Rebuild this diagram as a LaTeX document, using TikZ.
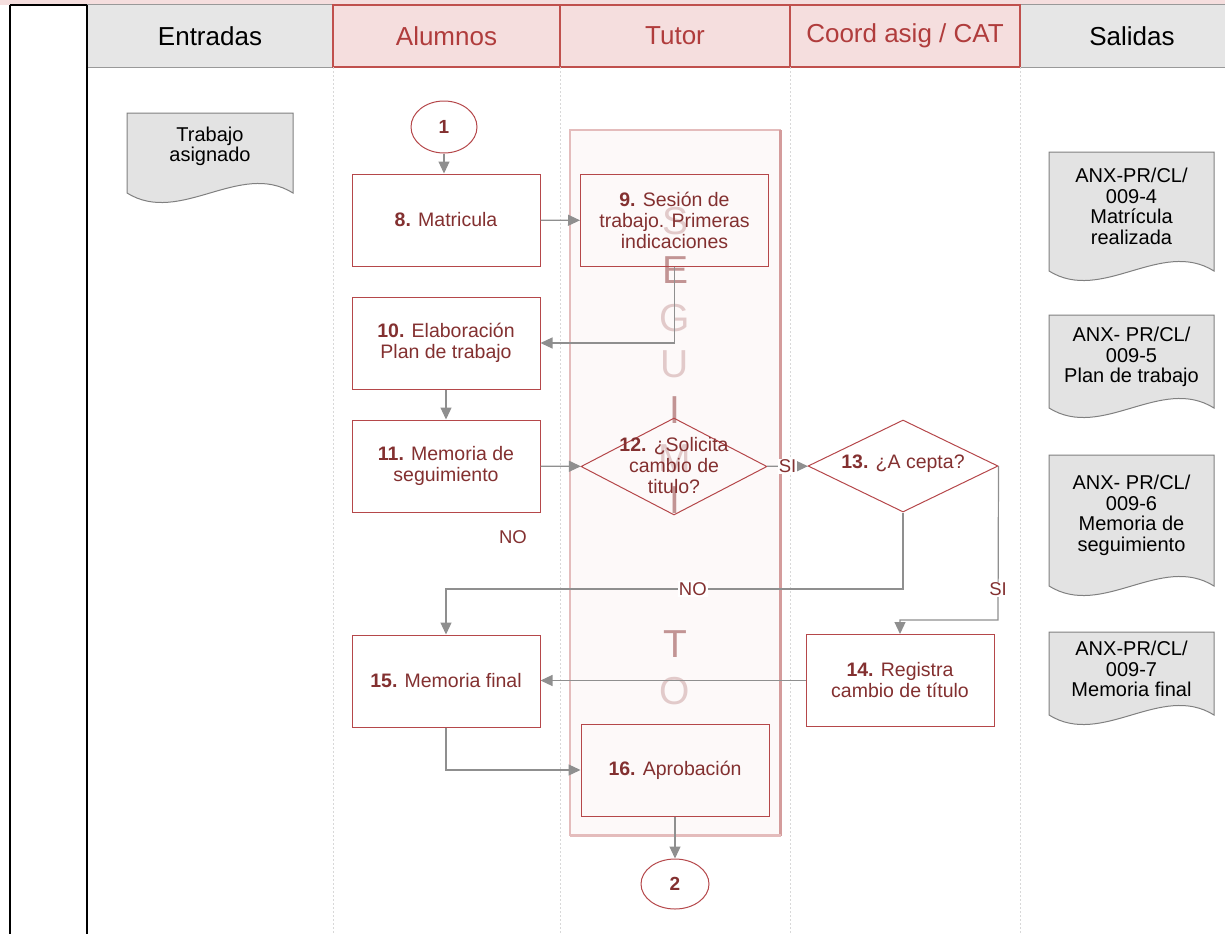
\documentclass[tikz,border=0pt]{standalone}
\usepackage{fontspec}
\setmainfont{Liberation Sans}
\usetikzlibrary{arrows.meta,shapes.geometric}
\definecolor{boxred}{HTML}{B5474A}
\definecolor{txtred}{HTML}{833030}
\definecolor{hdrred}{HTML}{B03C3C}
\definecolor{hdrborder}{HTML}{C0504D}
\definecolor{pinkfill}{HTML}{F5DEDE}
\definecolor{grayfill}{HTML}{E6E6E6}
\definecolor{arrowgray}{HTML}{8F8F8F}
\definecolor{framepink}{HTML}{E4BCBC}
\definecolor{framedark}{HTML}{D49C9C}
\definecolor{framefill}{HTML}{FDF9F9}
\definecolor{letlight}{HTML}{E2CACA}
\definecolor{letdark}{HTML}{C29494}
\definecolor{docgray}{HTML}{E3E3E3}
\definecolor{docborder}{HTML}{808080}
\definecolor{lanegray}{HTML}{D8D8D8}
\newcommand{\docpath}[4]{\draw[docsty] (#1,#2) -- (#3,#2) -- (#3,#4) .. controls +(-53,-33) and +(53,33) .. (#1,#4) -- cycle;}
\begin{document}
\begin{tikzpicture}[x=1pt,y=-1pt,
  stepbox/.style={draw=boxred, line width=1pt, fill=white, minimum width=188pt, minimum height=92pt, align=center, text=txtred, font=\fontsize{19.5}{21}\selectfont, inner sep=2pt},
  tbox/.style={stepbox, fill=none},
  decis/.style={diamond, draw=boxred, line width=1pt, inner sep=0pt},
  dtext/.style={align=center, text=txtred, font=\fontsize{19.5}{21}\selectfont, inner sep=0pt},
  conn/.style={ellipse, draw=boxred, line width=1pt, fill=white, minimum width=66pt, minimum height=52pt, text=txtred, font=\fontsize{19}{21}\selectfont\bfseries},
  flow/.style={draw=arrowgray, line width=1.2pt, -{Triangle[length=12pt,width=11pt]}},
  lbl/.style={fill=white, inner sep=1pt, text=txtred, font=\fontsize{18.5}{20}\selectfont},
  hgray/.style={draw=docborder!80, line width=1pt, fill=grayfill, minimum height=62pt, font=\fontsize{26}{28}\selectfont, text=black},
  hpink/.style={draw=hdrborder, line width=1.2pt, fill=pinkfill, minimum height=62pt, font=\fontsize{26}{28}\selectfont, text=hdrred},
  docsty/.style={draw=docborder, line width=1pt, fill=docgray},
  dtxt/.style={align=center, text=black, font=\fontsize{20}{20.5}\selectfont, inner sep=0pt},
  letL/.style={text=letlight, font=\fontsize{39}{39}\selectfont, inner sep=0pt},
  letD/.style={text=letdark, font=\fontsize{39}{39}\selectfont, inner sep=0pt}
]
\useasboundingbox (0,0) rectangle (1225,934);
\clip (0,0) rectangle (1225,934);
% top strip
\fill[pinkfill] (0,0) rectangle (1225,5);
% header cells
\node[hgray, minimum width=246pt] (hEnt) at (210,36) {Entradas};
\node[hgray, minimum width=224pt] (hSal) at (1132,36) {Salidas};
\node[hpink, minimum width=227pt] (hAlu) at (446.5,36) {Alumnos};
\node[hpink, minimum width=230pt] (hTut) at (675,36) {Tutor};
\node[hpink, minimum width=230pt] (hCoo) at (905,36) {Coord asig / CAT};
% left column
\draw[black, line width=1.5pt] (10,5) -- (10,934);
\draw[black, line width=2pt] (87,5) -- (87,934);
\draw[black, line width=1.5pt] (10,5) -- (87,5);
% lane separators
\foreach \xx in {333,560,790,1020}
  \draw[lanegray, line width=0.8pt, dash pattern=on 2pt off 2pt] (\xx,67) -- (\xx,934);
% seguimiento frame
\draw[framepink, fill=framefill, line width=1.8pt] (570,130) rectangle (780,835);
\draw[framedark, line width=3pt] (780,130) -- (780,836);
\draw[framepink, line width=3pt] (570,835) -- (781,835);
% letters
\node[letL] (lS) at (675,221) {S};
\node[letD] (lE) at (675,270) {E};
\node[letL] (lG) at (675,318) {G};
\node[letL] (lU) at (675,364) {U};
\node[letD] (lI1) at (675,410) {I};
\node[letL] (lM) at (675,458) {M};
\node[letD] (lI2) at (675,500) {I};
\node[letD] (lT) at (675,644) {T};
\node[letL] (lO) at (675,691) {O};
% documents
\docpath{127}{113}{293}{193}
\node[dtxt] (dTra) at (210,146.5) {Trabajo\\asignado};
\docpath{1049}{152}{1214}{271}
\node[dtxt] (dMat) at (1131.5,206.5) {ANX-PR/CL/\\009-4\\Matrícula\\realizada};
\docpath{1049}{315}{1214}{408}
\node[dtxt] (dPla) at (1131.5,357) {ANX- PR/CL/\\009-5\\Plan de trabajo};
\docpath{1049}{455}{1214}{586}
\node[dtxt] (dMem) at (1131.5,515.5) {ANX- PR/CL/\\009-6\\Memoria de\\seguimiento};
\docpath{1049}{632}{1214}{715}
\node[dtxt] (dFin) at (1131.5,669) {ANX-PR/CL/\\009-7\\Memoria final};
% process nodes
\node[conn] (c1) at (444,127) {1};
\node[stepbox] (b8) at (446,220) {\textbf{8.} Matricula};
\node[tbox] (b9) at (674.5,220.5) {\textbf{9.} Sesión de\\trabajo. Primeras\\indicaciones};
\node[stepbox] (b10) at (446,343) {\textbf{10.} Elaboración\\Plan de trabajo};
\node[stepbox] (b11) at (446,466) {\textbf{11.} Memoria de\\seguimiento};
\node[decis, minimum width=186pt, minimum height=97pt] (d12) at (674,466.5) {};
\node[dtext] (t12) at (674,466) {\textbf{12.} ¿Solicita\\cambio de\\titulo?};
\node[decis, minimum width=190pt, minimum height=92pt] (d13) at (903,466) {};
\node[dtext] (t13) at (903,464) {\textbf{13.} ¿A cepta?};
\node[stepbox] (b14) at (900,680.5) {\textbf{14.} Registra\\cambio de título};
\node[stepbox] (b15) at (446,681) {\textbf{15.} Memoria final};
\node[tbox] (b16) at (675,770) {\textbf{16.} Aprobación};
\node[conn, minimum width=68pt, minimum height=50pt] (c2) at (675,884) {2};
% connectors
\coordinate (n1) at (903,589);
\coordinate (s1) at (998,620);
\draw[flow] (c1.south) -- (c1.south |- b8.north);
\draw[flow] (b8) -- (b9);
\draw[flow] (b9.south) |- (b10.east);
\draw[flow] (b10) -- (b11);
\draw[flow] (b11) -- (d12);
\draw[flow] (d12) -- node[lbl]{SI} (d13);
\draw[flow] (d13.south) -- (n1) -| node[lbl, pos=0.23]{NO} (b15.north);
\draw[flow] (d13.east) -- node[lbl, pos=0.8]{SI} (s1) -| (b14.north);
\draw[flow] (b14.west) -- (b14.west -| b15.east);
\draw[flow] (b15.south) |- (b16.west);
\draw[flow] (b16) -- (c2);
\node[text=txtred, font=\fontsize{18.5}{20}\selectfont] (no1) at (513,537) {NO};
\end{tikzpicture}
\end{document}
